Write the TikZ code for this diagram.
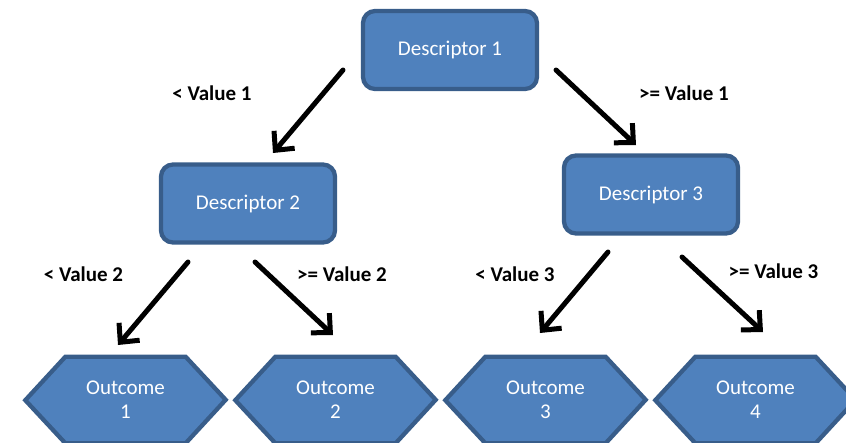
\documentclass[tikz,border=0pt]{standalone}
\usepackage{fontspec}
\setmainfont{Carlito}
\usetikzlibrary{arrows.meta}
\definecolor{boxfill}{HTML}{4F81BD}
\definecolor{boxline}{HTML}{385D8A}
\tikzset{
  descbox/.style={draw=boxline, fill=boxfill, line width=4.3pt, rounded corners=12pt,
    minimum width=174pt, minimum height=78pt, text=white, inner sep=0pt,
    font=\fontsize{21}{25}\selectfont},
  hexcore/.style={minimum width=120pt, minimum height=86pt, inner sep=0pt, text=white,
    align=center, font=\fontsize{21}{24}\selectfont},
  hexline/.style={draw=boxline, fill=boxfill, line width=4.3pt, line join=miter},
  branch/.style={line width=5pt, -{Straight Barb[length=14pt,width=27pt,line width=5pt]}, line cap=round},
  cond/.style={font=\bfseries\fontsize{21}{24}\selectfont, inner sep=0pt}
}
\newcommand{\hexdraw}[1]{%
  \draw[hexline] (#1.north west) -- (#1.north east) -- ++(40pt,-43pt) -- (#1.south east)
    -- (#1.south west) -- ++(-40pt,43pt) -- cycle;}
\begin{document}
\begin{tikzpicture}[x=1pt,y=-1pt]
\useasboundingbox (0,0) rectangle (846,442);
% descriptors
\node[descbox] (d1) at (450,50) {Descriptor 1};
\node[descbox] (d2) at (248,203.5) {Descriptor 2};
\node[descbox] (d3) at (651,194.5) {Descriptor 3};
% outcomes
\node[hexcore] (o1) at (125.5,400) {};
\node[hexcore] (o2) at (335.5,400) {};
\node[hexcore] (o3) at (545.5,400) {};
\node[hexcore] (o4) at (755.5,400) {};
\hexdraw{o1}\hexdraw{o2}\hexdraw{o3}\hexdraw{o4}
\node[hexcore] (t1) at (o1) {Outcome\\1};
\node[hexcore] (t2) at (o2) {Outcome\\2};
\node[hexcore] (t3) at (o3) {Outcome\\3};
\node[hexcore] (t4) at (o4) {Outcome\\4};
% arrow end points
\coordinate (a1s) at (343,70);  \coordinate (a1e) at (273,153);
\coordinate (a2s) at (556,70);  \coordinate (a2e) at (636,145);
\coordinate (a3s) at (188,262); \coordinate (a3e) at (118,345);
\coordinate (a4s) at (255,262); \coordinate (a4e) at (333,335);
\coordinate (a5s) at (608,252); \coordinate (a5e) at (540,333);
\coordinate (a6s) at (682,257); \coordinate (a6e) at (763,332);
\draw[branch] (a1s) -- (a1e);
\draw[branch] (a2s) -- (a2e);
\draw[branch] (a3s) -- (a3e);
\draw[branch] (a4s) -- (a4e);
\draw[branch] (a5s) -- (a5e);
\draw[branch] (a6s) -- (a6e);
% conditions
\node[cond] (l1) at (212,93) {< Value 1};
\node[cond] (l2) at (684,93) {>= Value 1};
\node[cond] (l3) at (83.5,274) {< Value 2};
\node[cond] (l4) at (342,274) {>= Value 2};
\node[cond] (l5) at (515,274) {< Value 3};
\node[cond] (l6) at (773.5,271) {>= Value 3};
\end{tikzpicture}
\end{document}
